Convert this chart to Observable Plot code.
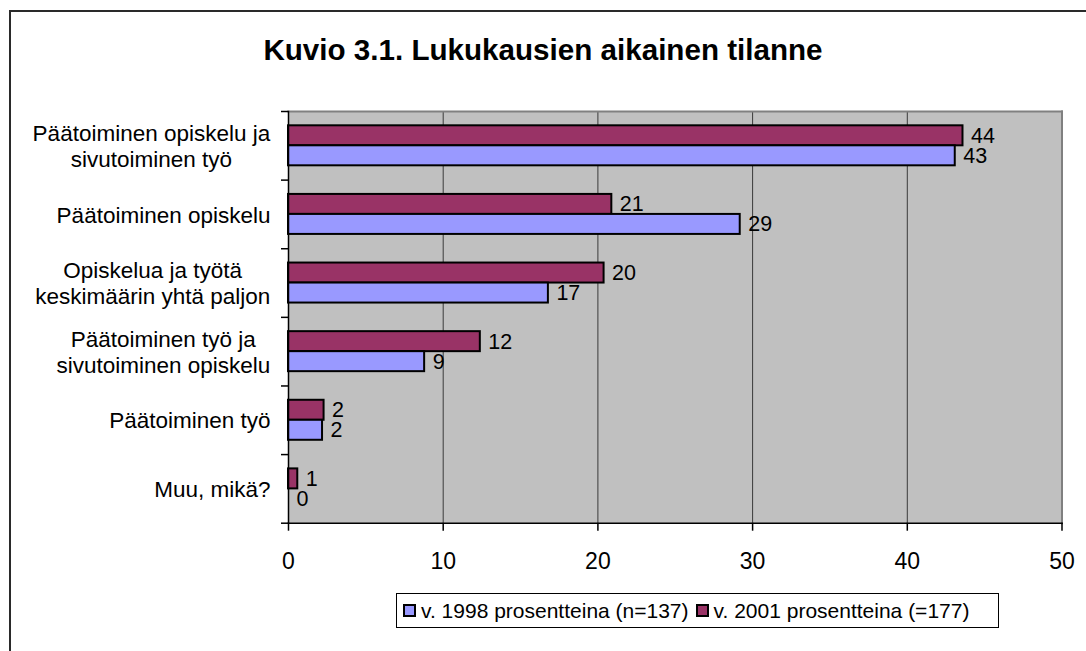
<!DOCTYPE html>
<html><head><meta charset="utf-8">
<script src="https://cdn.jsdelivr.net/npm/d3@7"></script>
<script src="https://cdn.jsdelivr.net/npm/@observablehq/plot@0.6"></script>
<style>
html,body{margin:0;padding:0;background:#fff;}
body{width:1086px;height:651px;position:relative;overflow:hidden;font-family:"Liberation Sans",Arial,sans-serif;color:#000;}
#border{position:absolute;left:9px;top:10px;width:1200px;height:800px;border:2px solid #2a2a2a;box-sizing:border-box;z-index:3;pointer-events:none;}
#title{position:absolute;left:0;width:1086px;top:35px;line-height:1;text-align:center;font-weight:bold;font-size:29.6px;z-index:2;}
#chart{position:absolute;left:0;top:80px;z-index:1;}
#legend{position:absolute;left:396px;top:593px;width:603px;height:35px;border:1px solid #000;box-sizing:border-box;display:flex;align-items:center;font-size:21px;white-space:nowrap;background:#fff;z-index:2;}
.item{display:flex;align-items:center;}
.sw{display:inline-block;width:13px;height:13px;border:2px solid #000;box-sizing:border-box;margin:0 5px 0 6px;}
</style>
</head><body>
<div id="border"></div>
<div id="title"></div>
<div id="chart"></div>
<div id="legend"></div>
<script>
const titleText = "Kuvio 3.1. Lukukausien aikainen tilanne";
const categories = [
  "Päätoiminen opiskelu ja\nsivutoiminen työ",
  "Päätoiminen opiskelu",
  "Opiskelua ja työtä\nkeskimäärin yhtä paljon",
  "Päätoiminen työ ja\nsivutoiminen opiskelu",
  "Päätoiminen työ",
  "Muu, mikä?"
];
const seriesNames = ["v. 1998 prosentteina (n=137)", "v. 2001 prosentteina (=177)"];
const values1998 = [43.1, 29.2, 16.8, 8.8, 2.2, 0];
const values2001 = [43.6, 20.9, 20.4, 12.4, 2.3, 0.6];
const labels1998 = ["43", "29", "17", "9", "2", "0"];
const labels2001 = ["44", "21", "20", "12", "2", "1"];
const xTicks = [0, 10, 20, 30, 40, 50];
const seriesColors = ["#9999FF", "#993366"];

document.getElementById("title").textContent = titleText;

const rows1998 = categories.map((c, i) => ({category: c, value: values1998[i], label: labels1998[i]}));
const rows2001 = categories.map((c, i) => ({category: c, value: values2001[i], label: labels2001[i]}));

const W = 1086, H = 500, mL = 288, mR = 24.5, mT = 31, mB = 57.3;
const bw = (H - mT - mB) / categories.length;
const barH = 20;
const pad = (bw - 2 * barH) / 2;

const plot = Plot.plot({
  width: W, height: H,
  marginLeft: mL, marginRight: mR, marginTop: mT, marginBottom: mB,
  style: {fontFamily: "'Liberation Sans', Arial, sans-serif", color: "#000", background: "transparent", overflow: "visible"},
  x: {domain: [0, 50], axis: null, label: null},
  y: {domain: categories, padding: 0, round: false, axis: null, label: null},
  marks: [
    Plot.frame({fill: "#C0C0C0"}),
    Plot.gridX({ticks: xTicks, stroke: "#3a3a3a", strokeOpacity: 1, strokeWidth: 1}),
    Plot.barX(rows2001, {x: "value", y: "category", fill: seriesColors[1], stroke: "#000", strokeWidth: 2, insetTop: pad, insetBottom: pad + barH}),
    Plot.barX(rows1998, {x: "value", y: "category", fill: seriesColors[0], stroke: "#000", strokeWidth: 2, insetTop: pad + barH, insetBottom: pad}),
    Plot.frame({anchor: "top", stroke: "#808080", strokeWidth: 2}),
    Plot.frame({anchor: "right", stroke: "#808080", strokeWidth: 2}),
    Plot.frame({anchor: "left", stroke: "#000", strokeWidth: 1.5}),
    Plot.frame({anchor: "bottom", stroke: "#000", strokeWidth: 1.5}),
    Plot.ruleY(categories, {y: d => d, x1: 0, x2: 0, insetLeft: -7, dy: -bw / 2, stroke: "#000", strokeWidth: 1.5}),
    Plot.ruleY(categories.slice(-1), {y: d => d, x1: 0, x2: 0, insetLeft: -7, dy: bw / 2, stroke: "#000", strokeWidth: 1.5}),
    Plot.text(rows2001, {x: "value", y: "category", text: "label", textAnchor: "start", dx: 8, dy: -10, fontSize: 21.5, fill: "#000"}),
    Plot.text(rows1998, {x: "value", y: "category", text: "label", textAnchor: "start", dx: 8, dy: 10, fontSize: 21.5, fill: "#000"}),
    Plot.axisX({ticks: xTicks, tickSize: 8, tickPadding: 21, fontSize: 23, stroke: "#000", strokeWidth: 1.5, label: null}),
    Plot.axisY({tickSize: 0, tickPadding: 18, fontSize: 22.5, lineHeight: 1.14, label: null})
  ]
});
document.getElementById("chart").appendChild(plot);

// Center multi-line category labels on each other (right-aligned block)
plot.querySelectorAll('[aria-label="y-axis tick label"] text').forEach(t => {
  const w = t.getBBox().width;
  t.setAttribute("text-anchor", "middle");
  const tr = t.getAttribute("transform") || "";
  t.setAttribute("transform", tr + ` translate(${-w / 2},0)`);
});

// Legend
const legend = document.getElementById("legend");
seriesNames.forEach((name, i) => {
  const item = document.createElement("span");
  item.className = "item";
  const sw = document.createElement("span");
  sw.className = "sw";
  sw.style.background = seriesColors[i];
  if (i > 0) sw.style.marginLeft = "7px";
  item.appendChild(sw);
  item.appendChild(document.createTextNode(name));
  legend.appendChild(item);
});
</script>
</body></html>
